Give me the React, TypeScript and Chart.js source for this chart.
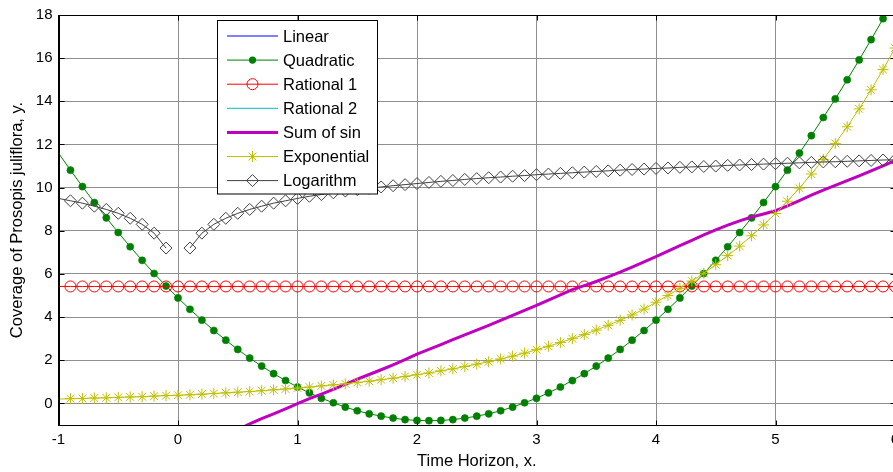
import React, { useEffect, useRef } from 'react';
import { Chart, registerables } from 'chart.js';

Chart.register(...registerables);

// ---------- data ----------
const X_VALUES = [
  -1.0, -0.9, -0.8, -0.7, -0.6, -0.5, -0.4, -0.3, -0.2, -0.1,
  0.0, 0.1, 0.2, 0.3, 0.4, 0.5, 0.6, 0.7, 0.8, 0.9,
  1.0, 1.1, 1.2, 1.3, 1.4, 1.5, 1.6, 1.7, 1.8, 1.9,
  2.0, 2.1, 2.2, 2.3, 2.4, 2.5, 2.6, 2.7, 2.8, 2.9,
  3.0, 3.1, 3.2, 3.3, 3.4, 3.5, 3.6, 3.7, 3.8, 3.9,
  4.0, 4.1, 4.2, 4.3, 4.4, 4.5, 4.6, 4.7, 4.8, 4.9,
  5.0, 5.1, 5.2, 5.3, 5.4, 5.5, 5.6, 5.7, 5.8, 5.9,
  6.0,
];

const LINEAR = [
  null, null, null, null, null, null, null, null, null, null,
  null, null, null, null, null, -1.22, -0.95, -0.70, -0.48, -0.25,
  -0.01, 0.22, 0.43, 0.65, 0.88, 1.12, 1.34, 1.56, 1.79, 2.03,
  2.28, 2.50, 2.73, 2.96, 3.18, 3.40, 3.62, 3.85, 4.08, 4.31,
  4.54, 4.79, 5.03, 5.27, 5.46, 5.65, 5.86, 6.08, 6.32, 6.56,
  6.80, 7.06, 7.31, 7.56, 7.81, 8.04, 8.26, 8.46, 8.64, 8.78,
  8.93, 9.15, 9.40, 9.65, 9.88, 10.10, 10.32, 10.55, 10.78, 11.01,
  11.25,
];

const QUADRATIC = [
  11.60, 10.81, 10.05, 9.31, 8.60, 7.92, 7.26, 6.63, 6.02, 5.44,
  4.89, 4.36, 3.86, 3.38, 2.93, 2.50, 2.10, 1.73, 1.38, 1.06,
  0.76, 0.49, 0.24, 0.03, -0.17, -0.34, -0.48, -0.59, -0.68, -0.75,
  -0.79, -0.80, -0.79, -0.75, -0.68, -0.59, -0.48, -0.34, -0.17, 0.03,
  0.24, 0.49, 0.76, 1.06, 1.38, 1.73, 2.10, 2.50, 2.93, 3.38,
  3.86, 4.36, 4.89, 5.44, 6.02, 6.63, 7.26, 7.92, 8.60, 9.31,
  10.05, 10.81, 11.60, 12.41, 13.25, 14.11, 15.00, 15.92, 16.86, 17.83,
  18.82,
];

const RATIONAL_1 = [
  5.42, 5.42, 5.42, 5.42, 5.42, 5.42, 5.42, 5.42, 5.42, 5.42,
  5.42, 5.42, 5.42, 5.42, 5.42, 5.42, 5.42, 5.42, 5.42, 5.42,
  5.42, 5.42, 5.42, 5.42, 5.42, 5.42, 5.42, 5.42, 5.42, 5.42,
  5.42, 5.42, 5.42, 5.42, 5.42, 5.42, 5.42, 5.42, 5.42, 5.42,
  5.42, 5.42, 5.42, 5.42, 5.42, 5.42, 5.42, 5.42, 5.42, 5.42,
  5.42, 5.42, 5.42, 5.42, 5.42, 5.42, 5.42, 5.42, 5.42, 5.42,
  5.42, 5.42, 5.42, 5.42, 5.42, 5.42, 5.42, 5.42, 5.42, 5.42,
  5.42,
];

const RATIONAL_2 = [
  null, null, null, null, null, null, null, null, null, null,
  null, null, null, null, null, -1.21, -0.95, -0.71, -0.48, -0.25,
  -0.02, 0.21, 0.43, 0.65, 0.88, 1.11, 1.34, 1.57, 1.80, 2.04,
  2.29, 2.51, 2.73, 2.95, 3.17, 3.40, 3.62, 3.85, 4.09, 4.31,
  4.54, 4.78, 5.02, 5.26, 5.46, 5.66, 5.87, 6.09, 6.32, 6.56,
  6.80, 7.05, 7.30, 7.55, 7.80, 8.03, 8.25, 8.45, 8.63, 8.79,
  8.95, 9.16, 9.40, 9.64, 9.87, 10.10, 10.32, 10.55, 10.78, 11.01,
  11.24,
];

const SUM_OF_SIN = [
  null, null, null, null, null, null, null, null, null, null,
  null, null, null, null, null, -1.22, -0.95, -0.70, -0.48, -0.25,
  -0.01, 0.22, 0.43, 0.65, 0.88, 1.12, 1.34, 1.56, 1.79, 2.03,
  2.28, 2.50, 2.73, 2.96, 3.18, 3.40, 3.62, 3.85, 4.08, 4.31,
  4.54, 4.79, 5.03, 5.27, 5.46, 5.65, 5.86, 6.08, 6.32, 6.56,
  6.80, 7.06, 7.31, 7.56, 7.81, 8.04, 8.26, 8.46, 8.64, 8.78,
  8.93, 9.15, 9.40, 9.65, 9.88, 10.10, 10.32, 10.55, 10.78, 11.01,
  11.25,
];

const EXPONENTIAL = [
  0.20, 0.22, 0.23, 0.25, 0.26, 0.28, 0.30, 0.31, 0.34, 0.36,
  0.38, 0.40, 0.43, 0.46, 0.49, 0.52, 0.55, 0.59, 0.63, 0.67,
  0.71, 0.76, 0.81, 0.86, 0.91, 0.97, 1.03, 1.10, 1.17, 1.25,
  1.33, 1.41, 1.51, 1.60, 1.71, 1.82, 1.93, 2.06, 2.19, 2.33,
  2.49, 2.65, 2.82, 3.00, 3.19, 3.40, 3.62, 3.85, 4.10, 4.37,
  4.69, 5.00, 5.33, 5.67, 6.03, 6.43, 6.85, 7.29, 7.77, 8.27,
  8.80, 9.37, 9.98, 10.63, 11.31, 12.05, 12.82, 13.65, 14.53, 15.47,
  16.47,
];

const LOGARITHM = [
  9.50, 9.39, 9.28, 9.14, 8.99, 8.81, 8.58, 8.30, 7.89, 7.20,
  null, 7.20, 7.89, 8.30, 8.58, 8.81, 8.99, 9.14, 9.28, 9.39,
  9.50, 9.60, 9.68, 9.76, 9.84, 9.91, 9.97, 10.03, 10.09, 10.14,
  10.19, 10.24, 10.29, 10.33, 10.38, 10.42, 10.46, 10.49, 10.53, 10.56,
  10.60, 10.63, 10.66, 10.69, 10.72, 10.75, 10.78, 10.81, 10.84, 10.86,
  10.89, 10.91, 10.94, 10.96, 10.98, 11.00, 11.03, 11.05, 11.07, 11.09,
  11.11, 11.13, 11.15, 11.17, 11.19, 11.20, 11.22, 11.24, 11.26, 11.28,
  11.29,
];

const SERIES_NAMES = ['Linear', 'Quadratic', 'Rational 1', 'Rational 2', 'Sum of sin', 'Exponential', 'Logarithm'];
const X_TICKS = [-1, 0, 1, 2, 3, 4, 5, 6];
const Y_TICKS = [0, 2, 4, 6, 8, 10, 12, 14, 16, 18];
const X_TITLE = 'Time Horizon, x.';
const Y_TITLE = 'Coverage of Prosopis juliflora, y.';

// ---------- layout / style ----------
const FONT = "'Liberation Sans', Arial, Helvetica, sans-serif";
const CANVAS_W = 912;
const CANVAS_H = 472;
const AREA = { left: 58.5, top: 14.5, right: 895, bottom: 425 };
const LEGEND_BOX = { x: 217.5, y: 20.5, w: 160, h: 173.5 };

type Marker = 'none' | 'dot' | 'circle' | 'star' | 'diamond';

const STYLES: { color: string; width: number; marker: Marker; radius: number }[] = [
  { color: '#0000ff', width: 1, marker: 'none', radius: 0 },
  { color: '#008000', width: 1, marker: 'dot', radius: 3.6 },
  { color: '#ff0000', width: 1, marker: 'circle', radius: 5.5 },
  { color: '#00bfbf', width: 1, marker: 'none', radius: 0 },
  { color: '#bf00bf', width: 3, marker: 'none', radius: 0 },
  { color: '#bfbf00', width: 1, marker: 'star', radius: 5.5 },
  { color: '#404040', width: 1, marker: 'diamond', radius: 6 },
];

const SERIES = [LINEAR, QUADRATIC, RATIONAL_1, RATIONAL_2, SUM_OF_SIN, EXPONENTIAL, LOGARITHM];

function drawMarker(ctx: CanvasRenderingContext2D, m: Marker, x: number, y: number, r: number, color: string) {
  ctx.save();
  ctx.strokeStyle = color;
  ctx.fillStyle = color;
  ctx.lineWidth = 1;
  ctx.beginPath();
  if (m === 'dot') {
    ctx.arc(x, y, r, 0, Math.PI * 2);
    ctx.fill();
  } else if (m === 'circle') {
    ctx.arc(x, y, r, 0, Math.PI * 2);
    ctx.stroke();
  } else if (m === 'star') {
    ctx.moveTo(x - r, y); ctx.lineTo(x + r, y);
    ctx.moveTo(x, y - r); ctx.lineTo(x, y + r);
    const d = r * Math.SQRT1_2;
    ctx.moveTo(x - d, y - d); ctx.lineTo(x + d, y + d);
    ctx.moveTo(x - d, y + d); ctx.lineTo(x + d, y - d);
    ctx.stroke();
  } else if (m === 'diamond') {
    ctx.moveTo(x - r, y); ctx.lineTo(x, y - r); ctx.lineTo(x + r, y); ctx.lineTo(x, y + r);
    ctx.closePath();
    ctx.stroke();
  }
  ctx.restore();
}

const framePlugin = {
  id: 'matlabFrame',
  afterDraw(chart: any) {
    const { ctx, chartArea: a, scales } = chart;
    ctx.save();
    // axes box
    ctx.strokeStyle = '#000';
    ctx.lineWidth = 1;
    const L = Math.round(a.left) + 0.5;
    const T = Math.round(a.top) + 0.5;
    const R = Math.round(a.right) + 0.5;
    const B = Math.round(a.bottom) + 0.5;
    ctx.strokeRect(L, T, R - L, B - T);
    // inward tick marks
    const tl = 5;
    ctx.beginPath();
    X_TICKS.forEach((v) => {
      const px = Math.round(scales.x.getPixelForValue(v)) + 0.5;
      ctx.moveTo(px, B); ctx.lineTo(px, B - tl);
      ctx.moveTo(px, T); ctx.lineTo(px, T + tl);
    });
    Y_TICKS.forEach((v) => {
      const py = Math.round(scales.y.getPixelForValue(v)) + 0.5;
      ctx.moveTo(L, py); ctx.lineTo(L + tl, py);
      ctx.moveTo(R, py); ctx.lineTo(R - tl, py);
    });
    ctx.stroke();

    // legend
    const lb = LEGEND_BOX;
    ctx.fillStyle = '#fff';
    ctx.fillRect(lb.x, lb.y, lb.w, lb.h);
    ctx.strokeStyle = '#000';
    ctx.lineWidth = 1;
    ctx.strokeRect(lb.x, lb.y, lb.w, lb.h);
    ctx.font = `16.5px ${FONT}`;
    ctx.textBaseline = 'middle';
    ctx.textAlign = 'left';
    SERIES_NAMES.forEach((name, i) => {
      const st = STYLES[i];
      const y = 36 + i * 24.1;
      ctx.strokeStyle = st.color;
      ctx.lineWidth = st.width;
      ctx.beginPath();
      ctx.moveTo(227, y);
      ctx.lineTo(278, y);
      ctx.stroke();
      if (st.marker !== 'none') drawMarker(ctx, st.marker, 252.5, y, st.radius, st.color);
      ctx.fillStyle = '#000';
      ctx.fillText(name, 283, y + 1);
    });
    ctx.restore();
  },
};

export default function App() {
  const ref = useRef<HTMLCanvasElement | null>(null);

  useEffect(() => {
    if (!ref.current) return;
    const hideFirst = (r: number) => (c: any) => (c.dataIndex === 0 ? 0 : r);
    const datasets = SERIES_NAMES.map((name, i) => {
      const st = STYLES[i];
      const ys = SERIES[i];
      const ds: any = {
        label: name,
        data: X_VALUES.map((x, k) => ({ x, y: ys[k] })),
        borderColor: st.color,
        borderWidth: st.width,
        backgroundColor: st.color,
        tension: 0,
        spanGaps: false,
        fill: false,
        order: SERIES_NAMES.length - i,
        pointRadius: 0,
        pointHoverRadius: 0,
      };
      if (st.marker === 'dot') {
        Object.assign(ds, { pointStyle: 'circle', pointRadius: hideFirst(st.radius), pointBackgroundColor: st.color, pointBorderColor: st.color, pointBorderWidth: 0.5 });
      } else if (st.marker === 'circle') {
        Object.assign(ds, { pointStyle: 'circle', pointRadius: hideFirst(st.radius), pointBackgroundColor: 'rgba(0,0,0,0)', pointBorderColor: st.color, pointBorderWidth: 1 });
      } else if (st.marker === 'star') {
        Object.assign(ds, { pointStyle: 'star', pointRadius: hideFirst(st.radius), pointBackgroundColor: st.color, pointBorderColor: st.color, pointBorderWidth: 1 });
      } else if (st.marker === 'diamond') {
        Object.assign(ds, { pointStyle: 'rectRot', pointRadius: hideFirst(st.radius), pointBackgroundColor: 'rgba(0,0,0,0)', pointBorderColor: st.color, pointBorderWidth: 1 });
      }
      return ds;
    });

    const tickFont = { family: FONT, size: 15 };
    const titleFont = { family: FONT, size: 16.5 };

    const chart = new Chart(ref.current, {
      type: 'line',
      data: { datasets },
      plugins: [framePlugin],
      options: {
        animation: false,
        responsive: false,
        devicePixelRatio: 1,
        maintainAspectRatio: false,
        layout: { padding: { left: 0, top: AREA.top, right: CANVAS_W - AREA.right, bottom: 0 } },
        plugins: { legend: { display: false }, tooltip: { enabled: false } },
        events: [],
        scales: {
          x: {
            type: 'linear',
            min: -1,
            max: 6,
            afterBuildTicks: (s: any) => { s.ticks = X_TICKS.map((v) => ({ value: v })); },
            afterFit: (s: any) => { s.height = CANVAS_H - AREA.bottom; },
            ticks: { font: tickFont, color: '#000', padding: 6, maxRotation: 0, autoSkip: false },
            grid: { color: '#8f8f8f', lineWidth: 1, drawTicks: false },
            border: { display: true, color: '#000' },
            title: { display: true, text: X_TITLE, font: titleFont, color: '#000', padding: { top: 0, bottom: 1 } },
          },
          y: {
            type: 'linear',
            min: -1,
            max: 18,
            afterBuildTicks: (s: any) => { s.ticks = Y_TICKS.map((v) => ({ value: v })); },
            afterFit: (s: any) => { s.width = AREA.left; },
            ticks: { font: tickFont, color: '#000', padding: 6, autoSkip: false },
            grid: { color: '#8f8f8f', lineWidth: 1, drawTicks: false },
            border: { display: true, color: '#000' },
            title: { display: true, text: Y_TITLE, font: titleFont, color: '#000', padding: { top: 8, bottom: 0 } },
          },
        },
      },
    } as any);
    return () => chart.destroy();
  }, []);

  return (
    <div style={{ position: 'absolute', left: 0, top: 0, width: 893, height: 472, overflow: 'hidden', background: '#fff' }}>
      <canvas ref={ref} width={CANVAS_W} height={CANVAS_H} style={{ display: 'block', width: CANVAS_W, height: CANVAS_H }} />
    </div>
  );
}
